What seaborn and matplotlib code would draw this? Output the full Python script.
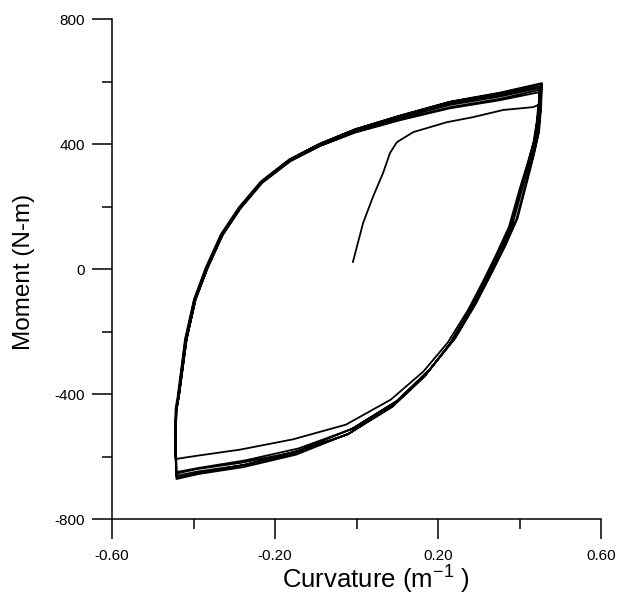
import matplotlib
matplotlib.use("Agg")
import matplotlib.pyplot as plt
from matplotlib.ticker import MultipleLocator, FormatStrFormatter
import seaborn as sns
import pandas as pd

# ---------------- data ----------------
initial_curv = [-0.009, 0.016, 0.040, 0.065, 0.082, 0.099, 0.139, 0.222, 0.286, 0.360, 0.433, 0.446]
initial_moment = [22, 147, 230, 307, 371, 406, 438, 470, 486, 509, 518, 525]

# descending branches (upper-right tip -> lower-left tip), one list per cycle
desc_curv = [
    [0.446, 0.442, 0.434, 0.420, 0.400, 0.374, 0.344, 0.312, 0.274, 0.224, 0.164, 0.084, -0.026, -0.156, -0.286, -0.394, -0.444],
    [0.454, 0.452, 0.446, 0.434, 0.416, 0.392, 0.362, 0.329, 0.291, 0.240, 0.179, 0.098, -0.012, -0.142, -0.272, -0.385, -0.443],
    [0.449, 0.445, 0.437, 0.422, 0.402, 0.377, 0.347, 0.315, 0.277, 0.227, 0.167, 0.087, -0.023, -0.153, -0.283, -0.391, -0.443],
    [0.455, 0.453, 0.448, 0.436, 0.419, 0.395, 0.365, 0.332, 0.294, 0.243, 0.182, 0.101, -0.009, -0.139, -0.269, -0.383, -0.441],
    [0.451, 0.448, 0.441, 0.427, 0.408, 0.383, 0.353, 0.320, 0.282, 0.232, 0.172, 0.092, -0.018, -0.148, -0.278, -0.388, -0.442],
    [0.450, 0.446, 0.439, 0.424, 0.405, 0.380, 0.350, 0.317, 0.279, 0.229, 0.169, 0.089, -0.021, -0.151, -0.281, -0.390, -0.442],
]
desc_moment = [
    [525, 470, 405, 340, 255, 135, 50, -35, -130, -235, -328, -418, -498, -545, -578, -598, -608],
    [592, 515, 435, 365, 278, 158, 70, -15, -112, -224, -322, -424, -512, -574, -612, -636, -650],
    [566, 490, 412, 342, 252, 132, 48, -38, -134, -244, -344, -442, -530, -586, -620, -640, -655],
    [595, 520, 440, 370, 282, 162, 74, -12, -108, -220, -318, -420, -510, -580, -625, -652, -668],
    [574, 498, 422, 352, 264, 144, 58, -28, -125, -234, -334, -433, -526, -594, -634, -656, -672],
    [580, 502, 424, 352, 262, 142, 56, -32, -130, -240, -340, -438, -528, -590, -628, -648, -662],
]

# ascending branches (lower-left tip -> upper-right tip), one list per cycle
asc_curv = [
    [-0.444, -0.446, -0.444, -0.439, -0.421, -0.399, -0.370, -0.333, -0.289, -0.235, -0.166, -0.092, -0.006, 0.105, 0.227, 0.350, 0.454],
    [-0.443, -0.445, -0.443, -0.437, -0.419, -0.397, -0.367, -0.331, -0.287, -0.233, -0.164, -0.091, -0.005, 0.106, 0.228, 0.351, 0.449],
    [-0.443, -0.444, -0.442, -0.436, -0.417, -0.395, -0.365, -0.328, -0.284, -0.230, -0.161, -0.088, -0.002, 0.109, 0.231, 0.354, 0.455],
    [-0.441, -0.444, -0.442, -0.437, -0.418, -0.396, -0.366, -0.329, -0.285, -0.231, -0.162, -0.089, -0.003, 0.108, 0.230, 0.353, 0.451],
    [-0.442, -0.445, -0.443, -0.438, -0.420, -0.398, -0.368, -0.331, -0.287, -0.233, -0.164, -0.090, -0.004, 0.107, 0.229, 0.352, 0.450],
    [-0.442, -0.444, -0.442, -0.436, -0.417, -0.395, -0.366, -0.329, -0.285, -0.231, -0.162, -0.089, -0.003, 0.108, 0.230, 0.353, 0.452],
]
asc_moment = [
    [-608, -530, -445, -408, -225, -97, 5, 111, 197, 280, 350, 400, 446, 490, 534, 562, 592],
    [-650, -545, -452, -412, -228, -100, 2, 108, 194, 277, 346, 393, 436, 476, 514, 540, 566],
    [-655, -540, -448, -408, -225, -96, 6, 112, 198, 283, 353, 402, 448, 492, 536, 565, 595],
    [-668, -548, -455, -414, -229, -101, 1, 107, 193, 276, 345, 394, 439, 479, 518, 545, 574],
    [-672, -550, -452, -413, -228, -99, 3, 109, 195, 279, 349, 398, 443, 484, 525, 552, 580],
    [-662, -545, -450, -410, -226, -98, 4, 110, 196, 280, 351, 400, 445, 487, 530, 558, 585],
]

x_ticks = [-0.60, -0.20, 0.20, 0.60]
y_ticks = [800, 400, 0, -400, -800]

# ---------------- build one continuous load path ----------------
path_curv = list(initial_curv)
path_moment = list(initial_moment)
for dc, dm, ac, am in zip(desc_curv, desc_moment, asc_curv, asc_moment):
    path_curv += dc + ac
    path_moment += dm + am
df = pd.DataFrame({"Curvature": path_curv, "Moment": path_moment})

# ---------------- plot ----------------
sns.set_theme(style="white")
plt.rcParams["font.family"] = ["Liberation Sans", "DejaVu Sans"]
plt.rcParams["axes.unicode_minus"] = False

fig = plt.figure(figsize=(6.19, 6.04), dpi=100)
ax = fig.add_axes([0.181, 0.1407, 0.790, 0.8278])

sns.lineplot(data=df, x="Curvature", y="Moment", sort=False, estimator=None,
             color="black", linewidth=1.3, ax=ax)

ax.set_xlim(-0.6, 0.6)
ax.set_ylim(-800, 800)
ax.set_xticks(x_ticks)
ax.set_yticks(y_ticks)
ax.xaxis.set_minor_locator(MultipleLocator(0.2))
ax.yaxis.set_minor_locator(MultipleLocator(200))
ax.xaxis.set_major_formatter(FormatStrFormatter("%.2f"))
ax.yaxis.set_major_formatter(FormatStrFormatter("%d"))

for s in ["top", "right"]:
    ax.spines[s].set_visible(False)
for s in ["left", "bottom"]:
    ax.spines[s].set_color("black")
    ax.spines[s].set_linewidth(1.1)

ax.tick_params(axis="both", which="both", bottom=True, left=True,
               top=False, right=False, direction="out", color="black", width=1.1)
ax.tick_params(axis="both", which="major", length=14.5,
               labelsize=11, labelcolor="black")
ax.tick_params(axis="both", which="minor", length=7)
ax.tick_params(axis="x", which="major", pad=7)
ax.tick_params(axis="y", which="major", pad=5)

ax.set_xlabel("Curvature (m$^{\\mathregular{-1}}$ )", fontsize=18.5, color="black")
ax.set_ylabel("Moment (N-m)", fontsize=17.5, color="black")
ax.xaxis.set_label_coords(0.540, -0.086)
ax.yaxis.set_label_coords(-0.158, 0.494)
ax.grid(False)

fig.savefig("out.png", dpi=100, facecolor="white")
